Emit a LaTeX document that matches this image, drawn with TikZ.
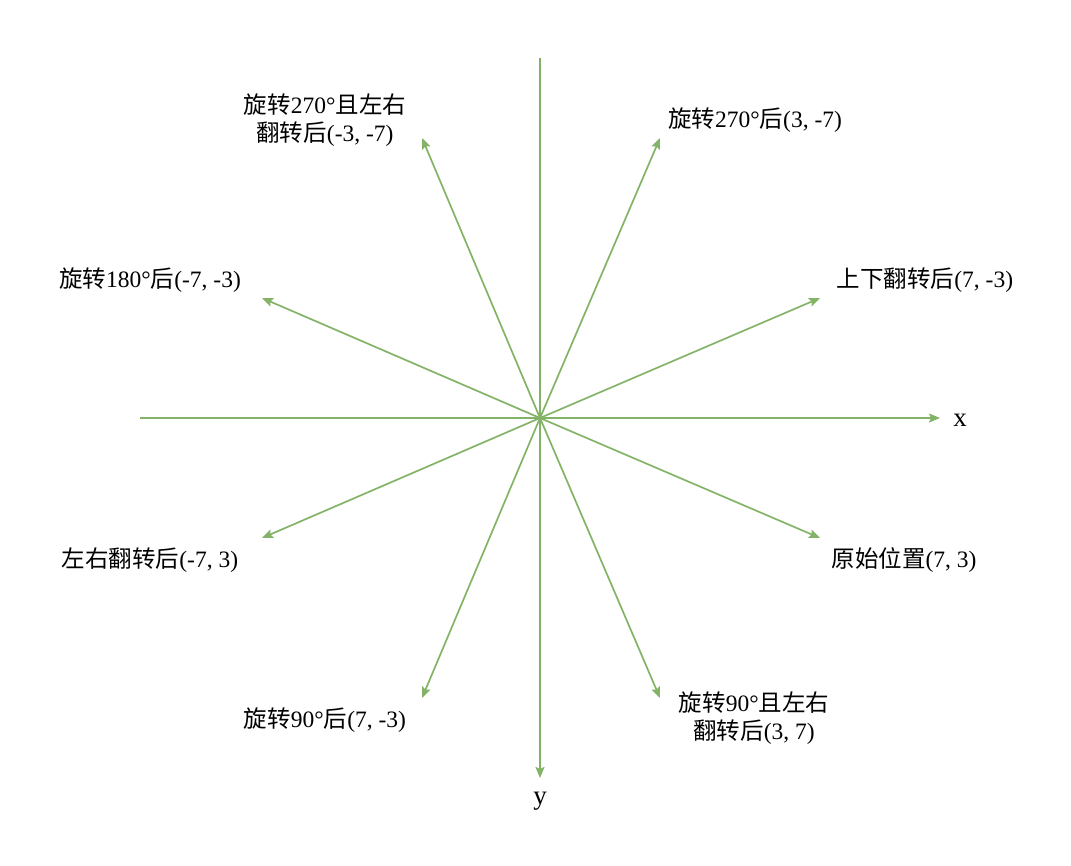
\documentclass[tikz,border=0pt]{standalone}
\usepackage{fontspec}
\setmainfont{Liberation Serif}
\newfontfamily\cjk{Noto Sans CJK SC}
\usetikzlibrary{arrows.meta}
\begin{document}
\begin{tikzpicture}[x=1pt,y=-1pt,
  ln/.style={draw={rgb,255:red,130;green,179;blue,102},line width=1.7pt,-{Stealth[length=11pt,width=9pt,inset=2pt]}},
  lb/.style={font=\fontsize{23.5}{28}\selectfont,align=center,inner sep=0pt}]
\useasboundingbox (0,0) rectangle (1071,866);
\coordinate (o) at (540,418);
\coordinate (xs) at (140,418);
\coordinate (xe) at (940,418);
\coordinate (ys) at (540,58);
\coordinate (ye) at (540,778);
\coordinate (a1) at (660,138);
\coordinate (a2) at (820,298);
\coordinate (a3) at (820,538);
\coordinate (a4) at (660,698);
\coordinate (a5) at (422,698);
\coordinate (a6) at (262,538);
\coordinate (a7) at (262,298);
\coordinate (a8) at (422,138);
\draw[ln] (xs) -- (xe);
\draw[ln] (ys) -- (ye);
\foreach \p in {a1,a2,a3,a4,a5,a6,a7,a8} \draw[ln] (o) -- (\p);
\node[lb,font=\fontsize{27}{30}\selectfont] (lx) at (960,420) {x};
\node[lb,font=\fontsize{27}{30}\selectfont] (ly) at (540,801) {y};
\node[lb] (l1) at (755,120) {{\cjk 旋转}270°{\cjk 后}(3, -7)};
\node[lb] (l2) at (925,280) {{\cjk 上下翻转后}(7, -3)};
\node[lb] (l3) at (904,560) {{\cjk 原始位置}(7, 3)};
\node[lb] (l4) at (754,718) {{\cjk 旋转}90°{\cjk 且左右}\\{\cjk 翻转后}(3, 7)};
\node[lb] (l5) at (325,720) {{\cjk 旋转}90°{\cjk 后}(7, -3)};
\node[lb] (l6) at (150,560) {{\cjk 左右翻转后}(-7, 3)};
\node[lb] (l7) at (150,280) {{\cjk 旋转}180°{\cjk 后}(-7, -3)};
\node[lb] (l8) at (325,120) {{\cjk 旋转}270°{\cjk 且左右}\\{\cjk 翻转后}(-3, -7)};
\end{tikzpicture}
\end{document}
